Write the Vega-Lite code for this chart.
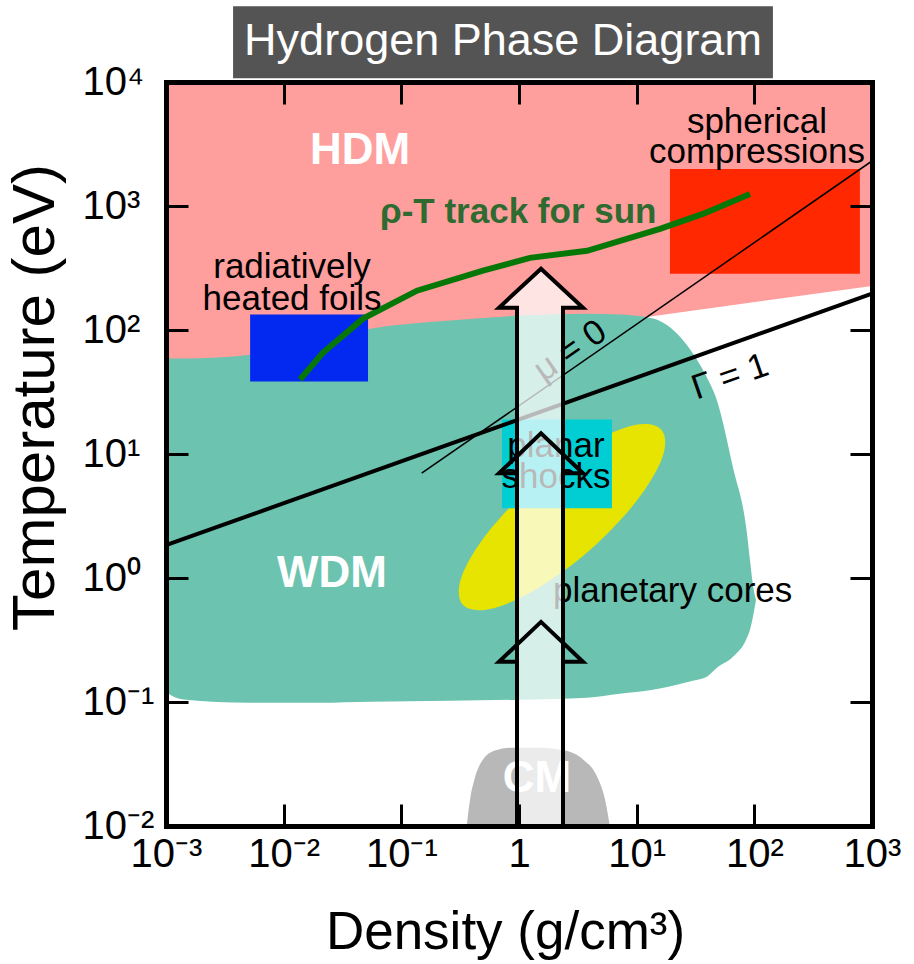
{
  "$schema": "https://vega.github.io/schema/vega-lite/v6.json",
  "width": 706,
  "height": 744,
  "autosize": {"type": "none"},
  "padding": {"left": 166, "top": 82, "right": 42, "bottom": 138},
  "config": {"font": "Liberation Sans", "view": {"stroke": null}},
  "datasets": {
    "banner": [{"x": -2.43, "x2": 2.158, "y": 4.031, "y2": 4.61}],
    "bannerText": [{"x": -0.136, "y": 4.33, "label": "Hydrogen Phase Diagram"}],
    "hdm": [
      {"x": -3.05, "y": 1.74}, {"x": -2.285, "y": 1.754}, {"x": -1.266, "y": 1.971}, {"x": -0.586, "y": 2.051},
      {"x": 0.008, "y": 2.092}, {"x": 0.688, "y": 2.1}, {"x": 1.054, "y": 2.1}, {"x": 3.07, "y": 2.365}
    ],
    "wdm": [
      {"x": -3.05, "y": -0.87, "y2": 1.77}, {"x": -2.95, "y": -0.95, "y2": 1.77}, {"x": -2.85, "y": -0.98, "y2": 1.77},
      {"x": -2.285, "y": -1.006, "y2": 1.8}, {"x": -1.691, "y": -1.006, "y2": 1.93}, {"x": -1.266, "y": -0.998, "y2": 2.011},
      {"x": -0.586, "y": -0.99, "y2": 2.076}, {"x": 0.008, "y": -0.981, "y2": 2.116}, {"x": 0.578, "y": -0.965, "y2": 2.132},
      {"x": 0.858, "y": -0.933, "y2": 2.124}, {"x": 1.138, "y": -0.901, "y2": 2.092}, {"x": 1.342, "y": -0.861, "y2": 1.971},
      {"x": 1.478, "y": -0.829, "y2": 1.81}, {"x": 1.597, "y": -0.796, "y2": 1.617}, {"x": 1.682, "y": -0.724, "y2": 1.432},
      {"x": 1.818, "y": -0.636, "y2": 0.893}, {"x": 1.937, "y": -0.483, "y2": 0.362}, {"x": 1.963, "y": -0.418, "y2": 0.145},
      {"x": 1.988, "y": -0.314, "y2": -0.056}, {"x": 2.014, "y": -0.177, "y2": -0.177}
    ],
    "cm": [
      {"x": -0.45, "y": -2.05}, {"x": -0.416, "y": -1.786}, {"x": -0.374, "y": -1.609}, {"x": -0.306, "y": -1.464},
      {"x": -0.204, "y": -1.392}, {"x": -0.076, "y": -1.368}, {"x": 0.178, "y": -1.368}, {"x": 0.391, "y": -1.392},
      {"x": 0.544, "y": -1.464}, {"x": 0.663, "y": -1.601}, {"x": 0.731, "y": -1.786}, {"x": 0.78, "y": -2.05}
    ],
    "cores": [
      {"i": 0, "x": 1.21, "y": 1.195}, {"i": 1, "x": 1.218, "y": 0.971}, {"i": 2, "x": 0.997, "y": 0.618},
      {"i": 3, "x": 0.608, "y": 0.23}, {"i": 4, "x": 0.153, "y": -0.087}, {"i": 5, "x": -0.245, "y": -0.25},
      {"i": 6, "x": -0.479, "y": -0.214}, {"i": 7, "x": -0.488, "y": 0.01}, {"i": 8, "x": -0.267, "y": 0.364},
      {"i": 9, "x": 0.122, "y": 0.751}, {"i": 10, "x": 0.578, "y": 1.068}, {"i": 11, "x": 0.975, "y": 1.232}
    ],
    "boxes": [
      {"name": "radiatively heated foils", "x": -2.285, "x2": -1.283, "y": 1.585, "y2": 2.124},
      {"name": "planar shocks", "x": -0.144, "x2": 0.79, "y": 0.563, "y2": 1.279},
      {"name": "spherical compressions", "x": 1.283, "x2": 2.897, "y": 2.454, "y2": 3.298}
    ],
    "gamma": [{"x": -3, "y": 0.265}, {"x": 3, "y": 2.293}],
    "mu": [{"x": -0.827, "y": 0.845}, {"x": 3, "y": 3.363}],
    "track": [
      {"x": -1.861, "y": 1.601}, {"x": -1.665, "y": 1.818}, {"x": -1.325, "y": 2.092}, {"x": -0.867, "y": 2.317},
      {"x": -0.306, "y": 2.478}, {"x": 0.093, "y": 2.582}, {"x": 0.578, "y": 2.639}, {"x": 1.198, "y": 2.816},
      {"x": 1.563, "y": 2.936}, {"x": 1.963, "y": 3.097}
    ],
    "arrow": [
      {"i": 1, "x": -0.017, "y": -2.0}, {"i": 2, "x": -0.017, "y": 2.18}, {"i": 3, "x": -0.17, "y": 2.18},
      {"i": 4, "x": 0.187, "y": 2.494}, {"i": 5, "x": 0.544, "y": 2.18}, {"i": 6, "x": 0.374, "y": 2.18},
      {"i": 7, "x": 0.374, "y": -2.0}
    ],
    "chevrons": [
      {"g": "a", "i": 1, "x": -0.017, "y": 0.845}, {"g": "a", "i": 2, "x": -0.17, "y": 0.845}, {"g": "a", "i": 3, "x": 0.187, "y": 1.167},
      {"g": "a", "i": 4, "x": 0.544, "y": 0.845}, {"g": "a", "i": 5, "x": 0.374, "y": 0.845},
      {"g": "b", "i": 1, "x": -0.017, "y": -0.676}, {"g": "b", "i": 2, "x": -0.17, "y": -0.676}, {"g": "b", "i": 3, "x": 0.187, "y": -0.354},
      {"g": "b", "i": 4, "x": 0.544, "y": -0.676}, {"g": "b", "i": 5, "x": 0.374, "y": -0.676}
    ],
    "regionNames": [
      {"x": -1.351, "y": 3.443, "label": "HDM"}, {"x": -1.589, "y": 0.032, "label": "WDM"}, {"x": 0.153, "y": -1.617, "label": "CM"}
    ],
    "expNames": [
      {"x": -1.929, "y": 2.422, "label": "radiatively"}, {"x": -1.929, "y": 2.164, "label": "heated foils"},
      {"x": 2.022, "y": 3.588, "label": "spherical"}, {"x": 2.022, "y": 3.347, "label": "compressions"},
      {"x": 0.314, "y": 0.973, "label": "planar"}, {"x": 0.314, "y": 0.724, "label": "shocks"}
    ],
    "coresName": [{"x": 0.289, "y": -0.193, "label": "planetary cores"}],
    "trackName": [{"x": -1.181, "y": 2.864, "label": "ρ-T track for sun"}],
    "muName": [{"x": 0.433, "y": 1.834, "label": "μ = 0"}],
    "gammaName": [{"x": 1.793, "y": 1.625, "label": "Γ = 1"}]
  },
  "encoding": {
    "x": {"field": "x", "type": "quantitative", "scale": {"domain": [-3, 3], "nice": false, "zero": false}, "axis": null},
    "y": {"field": "y", "type": "quantitative", "scale": {"domain": [-2, 4], "nice": false, "zero": false}, "axis": null}
  },
  "layer": [
    {
      "data": {"name": "banner"},
      "mark": {"type": "rect", "color": "#545454"},
      "encoding": {"x2": {"field": "x2"}, "y2": {"field": "y2"}}
    },
    {
      "data": {"name": "bannerText"},
      "mark": {"type": "text", "fontSize": 45, "color": "white", "align": "center", "baseline": "middle"},
      "encoding": {"text": {"field": "label"}}
    },
    {
      "data": {"name": "hdm"},
      "mark": {"type": "area", "color": "#FE9E9D", "clip": true, "opacity": 1},
      "encoding": {
        "x": {"field": "x", "type": "quantitative", "scale": {"domain": [-3, 3], "nice": false, "zero": false},
          "axis": {"orient": "bottom", "values": [-3, -2, -1, 0, 1, 2, 3], "grid": false, "zindex": 2,
            "labelExpr": "datum.value==-3?'10⁻³':datum.value==-2?'10⁻²':datum.value==-1?'10⁻¹':datum.value==0?'1':datum.value==1?'10¹':datum.value==2?'10²':'10³'",
            "labelFontSize": 40, "labelColor": "black", "labelFlush": false, "labelOverlap": false, "labelBound": false, "labelPadding": 30,
            "tickSize": -22, "tickWidth": 3, "tickColor": "black", "domainColor": "black", "domainWidth": 5, "domainCap": "square",
            "title": "Density (g/cm³)", "titleFontSize": 53, "titleFontWeight": "normal", "titleColor": "black", "titlePadding": 32, "titleX": 339}},
        "y": {"field": "y", "type": "quantitative", "scale": {"domain": [-2, 4], "nice": false, "zero": false},
          "axis": {"orient": "left", "values": [-2, -1, 0, 1, 2, 3, 4], "grid": false, "zindex": 2,
            "labelExpr": "datum.value==-2?'10⁻²':datum.value==-1?'10⁻¹':datum.value==0?'10⁰':datum.value==1?'10¹':datum.value==2?'10²':datum.value==3?'10³':'10⁴'",
            "labelFontSize": 40, "labelColor": "black", "labelAlign": "left", "labelBaseline": "middle", "labelOverlap": false, "labelBound": false, "labelFlush": false, "labelPadding": 106,
            "tickSize": -22, "tickWidth": 3, "tickColor": "black", "domainColor": "black", "domainWidth": 5, "domainCap": "square",
            "title": "Temperature (eV)", "titleFontSize": 60, "titleFontWeight": "normal", "titleColor": "black", "titlePadding": 16, "titleY": 315}},
        "y2": {"datum": 4.2}
      }
    },
    {
      "data": {"name": "wdm"},
      "mark": {"type": "area", "color": "#6CC4B0", "clip": true, "interpolate": "monotone", "opacity": 1},
      "encoding": {
        "x": {"field": "x", "type": "quantitative", "scale": {"domain": [-3, 3], "nice": false, "zero": false},
          "axis": {"orient": "top", "values": [-3, -2, -1, 0, 1, 2, 3], "grid": false, "zindex": 2, "labels": false, "title": null,
            "tickSize": -22, "tickWidth": 3, "tickColor": "black", "domainColor": "black", "domainWidth": 5, "domainCap": "square"}},
        "y": {"field": "y", "type": "quantitative", "scale": {"domain": [-2, 4], "nice": false, "zero": false},
          "axis": {"orient": "right", "values": [-2, -1, 0, 1, 2, 3, 4], "grid": false, "zindex": 2, "labels": false, "title": null,
            "tickSize": -22, "tickWidth": 3, "tickColor": "black", "domainColor": "black", "domainWidth": 5, "domainCap": "square"}},
        "y2": {"field": "y2"}
      }
    },
    {
      "data": {"name": "cm"},
      "mark": {"type": "area", "color": "#B8B8B8", "clip": true, "interpolate": "monotone", "opacity": 1},
      "encoding": {"y2": {"datum": -2.1}}
    },
    {
      "data": {"name": "cores"},
      "mark": {"type": "line", "filled": true, "color": "#E6E400", "interpolate": "cardinal-closed", "strokeWidth": 0},
      "encoding": {"order": {"field": "i", "type": "quantitative"}}
    },
    {
      "data": {"name": "boxes"},
      "mark": {"type": "rect"},
      "encoding": {
        "x2": {"field": "x2"},
        "y2": {"field": "y2"},
        "color": {"field": "name", "type": "nominal", "legend": null,
          "scale": {"domain": ["radiatively heated foils", "planar shocks", "spherical compressions"], "range": ["#0329F0", "#00CED3", "#FF2800"]}}
      }
    },
    {
      "data": {"name": "gamma"},
      "mark": {"type": "line", "color": "black", "strokeWidth": 4, "clip": true},
      "encoding": {}
    },
    {
      "data": {"name": "mu"},
      "mark": {"type": "line", "color": "black", "strokeWidth": 1.5, "clip": true},
      "encoding": {}
    },
    {
      "data": {"name": "track"},
      "mark": {"type": "line", "color": "#077807", "strokeWidth": 6},
      "encoding": {}
    },
    {
      "data": {"name": "regionNames"},
      "mark": {"type": "text", "fontSize": 44, "fontWeight": "bold", "color": "white", "align": "center", "baseline": "middle"},
      "encoding": {"text": {"field": "label"}}
    },
    {
      "data": {"name": "expNames"},
      "mark": {"type": "text", "fontSize": 35, "color": "black", "align": "center", "baseline": "alphabetic"},
      "encoding": {"text": {"field": "label"}}
    },
    {
      "data": {"name": "coresName"},
      "mark": {"type": "text", "fontSize": 35, "color": "black", "align": "left", "baseline": "alphabetic"},
      "encoding": {"text": {"field": "label"}}
    },
    {
      "data": {"name": "trackName"},
      "mark": {"type": "text", "fontSize": 35, "fontWeight": "bold", "color": "#2F6A31", "align": "left", "baseline": "alphabetic"},
      "encoding": {"text": {"field": "label"}}
    },
    {
      "data": {"name": "muName"},
      "mark": {"type": "text", "fontSize": 35, "color": "black", "align": "center", "baseline": "middle", "angle": -35},
      "encoding": {"text": {"field": "label"}}
    },
    {
      "data": {"name": "gammaName"},
      "mark": {"type": "text", "fontSize": 35, "color": "black", "align": "center", "baseline": "middle", "angle": -19},
      "encoding": {"text": {"field": "label"}}
    },
    {
      "data": {"name": "arrow"},
      "mark": {"type": "line", "filled": true, "color": "white", "opacity": 0.72, "strokeWidth": 0},
      "encoding": {"order": {"field": "i", "type": "quantitative"}}
    },
    {
      "data": {"name": "arrow"},
      "mark": {"type": "line", "color": "black", "strokeWidth": 4, "strokeJoin": "miter"},
      "encoding": {"order": {"field": "i", "type": "quantitative"}}
    },
    {
      "data": {"name": "chevrons"},
      "mark": {"type": "line", "color": "black", "strokeWidth": 4, "strokeJoin": "miter"},
      "encoding": {"order": {"field": "i", "type": "quantitative"}, "detail": {"field": "g", "type": "nominal"}}
    }
  ],
  "resolve": {"axis": {"x": "independent", "y": "independent"}}
}
